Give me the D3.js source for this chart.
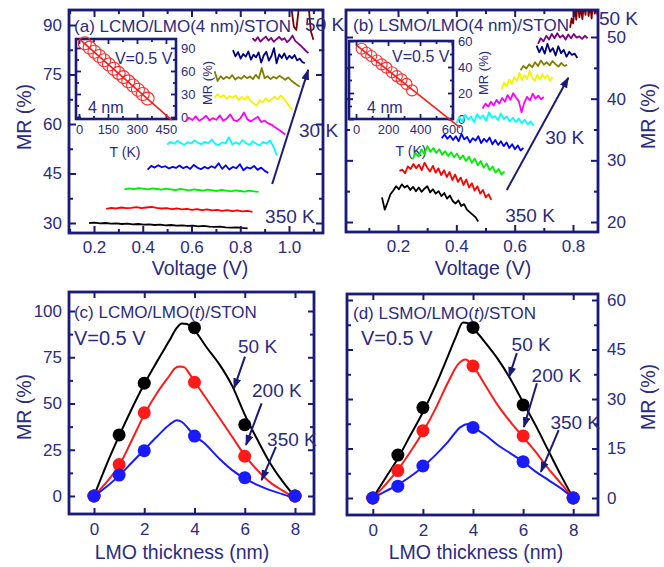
<!DOCTYPE html>
<html>
<head>
<meta charset="utf-8">
<script src="https://cdn.jsdelivr.net/npm/d3@7"></script>
<style>
  body { margin: 0; background: #fff; }
</style>
</head>
<body>
<div id="fig"></div>
<script>
// temperature series colours, 350 K (black) down to 30 K (dark red)
var seriesColors = ["#000000", "#ff0000", "#00ee00", "#0000ff", "#00ffff", "#ff00ff",
                    "#f4f400", "#808000", "#000080", "#800080", "#800000"];

// (a) LCMO/LMO(4 nm)/STON: MR vs voltage, first/last voltage of each sweep and its MR values
var vStartA = [0.18, 0.25, 0.325, 0.42, 0.50, 0.575, 0.695, 0.695, 0.77, 0.85, 0.99];
var vEndA   = [0.83, 0.85, 0.875, 0.915, 0.95, 0.985, 1.015, 1.045, 1.065, 1.08, 1.10];
var mrA = [
  [30.0,30.1,29.9,30.0,29.8,29.9,29.7,29.8,29.6,29.7,29.5,29.6,29.4,29.5,29.3,29.4,29.2,29.3,29.1,29.2,29.0,29.1,28.9,28.8,28.9,28.7,28.6,28.7,28.5,28.4],
  [34.3,34.6,34.4,34.7,34.5,34.6,34.8,34.5,34.7,34.9,34.6,34.4,34.5,34.2,34.4,34.1,34.3,34.0,34.2,33.9,34.1,33.8,34.0,33.7,33.9,33.6,33.8,33.5,33.7,33.4],
  [40.2,40.5,40.3,40.6,40.4,40.2,40.5,40.3,40.1,40.4,40.2,40.0,40.3,40.1,39.9,40.2,40.0,39.8,40.1,39.9,39.7,40.0,39.8,39.6,39.9,39.7,39.5,39.8,39.6,39.4],
  [46.2,47.3,46.8,47.5,46.9,47.2,46.5,47.0,46.7,47.4,46.6,47.1,46.4,47.6,46.8,46.3,47.0,46.5,47.2,46.7,48.1,46.4,47.5,46.2,47.0,46.6,47.8,46.0,46.9,46.5,47.3,46.1,46.8,45.8,45.2],
  [53.8,54.6,54.0,54.9,54.2,53.7,54.5,54.1,55.0,54.3,53.9,54.6,54.2,55.3,54.0,53.6,54.4,54.1,56.0,53.8,54.5,53.9,55.1,54.2,53.7,54.8,54.0,53.5,54.6,54.1,55.0,53.2,50.5],
  [60.8,61.9,61.2,62.3,61.0,61.6,62.5,61.1,61.8,61.3,62.6,61.0,61.7,62.9,61.2,60.9,61.8,63.5,61.4,60.8,61.5,62.2,60.6,61.0,60.2,59.8,59.0,58.3,57.6,56.8],
  [68.2,69.0,68.1,68.8,67.6,68.5,67.9,68.7,67.3,68.2,67.5,68.4,67.0,66.2,65.6,67.2,66.5,67.8,66.9,67.5,68.3,67.4,68.6,67.8,66.5,65.2,64.3],
  [76.0,73.0,74.5,73.6,74.3,73.8,74.8,73.5,74.2,73.7,74.6,73.9,74.4,73.6,74.9,73.8,77.0,73.9,74.5,73.6,74.3,73.8,74.6,74.0,73.4,74.1,73.2,72.5,71.8,71.3],
  [82.4,80.5,81.8,79.8,81.2,80.4,82.0,79.5,81.0,80.2,81.7,78.6,80.8,81.9,79.2,80.6,83.0,78.4,81.1,80.0,81.4,79.6,80.7,79.9,80.9,79.3,79.8,78.8,78.4],
  [86.0,85.2,86.3,85.0,85.8,86.5,85.3,86.1,84.9,85.7,86.4,85.5,86.0,84.8,85.6,86.8,85.2,84.5,83.8,83.0,82.2,81.5],
  [97.0,96.5,95.0,89.5,88.5,95.0,97.0,96.5,97.5,96.0,88.0,85.5]
];

// (b) LSMO/LMO(4 nm)/STON
var vStartB = [0.145, 0.205, 0.25, 0.35, 0.40, 0.49, 0.555, 0.62, 0.675, 0.68, 0.79];
var vEndB   = [0.475, 0.52, 0.565, 0.63, 0.665, 0.70, 0.73, 0.78, 0.815, 0.85, 0.885];
var mrB = [
  [24.0,22.0,23.2,24.5,25.1,25.8,25.3,26.1,25.6,25.9,25.2,25.7,25.0,25.6,24.9,25.4,25.8,24.8,25.3,24.6,25.0,24.2,24.7,23.8,24.3,23.4,23.0,23.5,22.6,22.9,22.0,21.6,21.2,20.8,20.1],
  [28.3,28.5,27.9,29.0,28.6,29.4,28.7,29.3,28.4,29.6,28.8,28.2,29.1,28.0,28.7,27.6,28.4,27.3,28.1,26.8,27.7,26.5,27.2,26.0,26.9,25.6,26.3,25.1,25.8,24.6,25.2,24.0,24.5,23.6],
  [30.2,31.2,30.6,31.8,31.0,32.3,31.4,32.0,31.2,31.8,30.9,31.5,30.7,31.3,30.5,31.1,30.2,30.8,29.9,30.6,29.6,30.3,29.2,29.9,28.8,29.5,28.4,29.0,28.0,28.6,27.7,28.2],
  [33.6,34.2,33.5,34.0,33.3,33.9,33.1,34.3,33.4,33.8,32.9,33.6,33.2,33.9,32.8,33.5,33.0,33.7,32.6,33.3,32.5,33.1,32.3,32.9,32.0,32.6,31.8,32.4,31.6,32.0],
  [36.0,37.0,36.3,37.4,36.6,37.1,36.2,37.5,36.8,37.3,36.4,37.8,36.9,37.2,36.5,37.6,36.7,37.1,36.3,36.9,36.2,36.8,36.0,36.6,35.8,36.3,35.6],
  [38.4,39.2,38.7,39.5,38.9,39.8,39.2,40.1,39.5,40.6,39.8,40.9,40.2,39.6,37.8,39.4,40.3,39.7,40.8,40.0,40.5,39.9,40.3],
  [41.5,42.6,42.0,43.1,42.4,43.5,42.8,44.2,43.0,43.8,43.2,44.5,43.4,42.9,43.9,43.1,44.0,43.3,43.8,42.9,43.5],
  [44.6,45.3,44.9,45.6,45.1,45.9,45.3,46.2,45.5,45.9,45.4,46.1,45.6,45.2,45.8,45.3,45.5],
  [48.6,47.5,48.4,47.3,48.9,47.6,48.2,47.0,48.5,47.4,47.9,46.8,47.6,47.1,47.3,46.6],
  [48.9,49.8,49.3,50.2,49.6,50.5,49.8,50.6,49.9,50.3,49.6,50.4,49.8,50.5,49.9,50.1,49.7,50.2,49.8],
  [51.5,53.0,52.2,55.0,52.8,56.0,53.2,54.8,52.9,55.5,53.6,56.5,53.4,55.2,53.0,56.2,53.8,54.5,53.5]
];

// insets: MR vs T at V = 0.5 V for 4 nm LMO
var insetTempA = [30, 55, 80, 105, 130, 155, 180, 205, 230, 255, 280, 305, 330, 355];
var insetMrA   = [96, 90.5, 85, 79.5, 74, 68.5, 63, 57.5, 52, 46.5, 41, 35.5, 30, 24];
var insetFitA  = [[10, 100], [480, -4]];
var insetTempB = [35, 65, 95, 130, 160, 190, 225, 255, 285, 315, 350];
var insetMrB   = [54, 51, 48.5, 45, 42, 39.5, 36, 33, 30.5, 27, 22];
var insetFitB  = [[4, 56.7], [650, -6.6]];

// (c), (d): MR vs LMO thickness at V = 0.5 V
var thickness = [0, 1, 2, 4, 6, 8];
var mrC50  = [0, 33, 61, 91, 38.5, 0];
var mrC200 = [0, 17, 45, 61.5, 21.5, 0];
var mrC350 = [0, 11.3, 24.5, 32.4, 9.9, 0];
var fitC50  = [[0,0],[0.5,17],[1,32.5],[1.5,47],[2,60.5],[2.5,72.5],[3,84],[3.3,91],[3.5,93.2],[3.7,93],[3.85,91.5],[4,89.5],[4.5,80],[5,71],[5.5,59.5],[6,44],[6.5,30.5],[7,18],[7.5,8],[8,-0.5]];
var fitC200 = [[0,0],[0.5,7.5],[1,16.5],[1.5,30],[2,44],[2.5,55.5],[3,65],[3.2,68.8],[3.4,70],[3.6,69.5],[3.8,66],[4,62],[4.5,52],[5,42],[5.5,32],[6,22],[6.5,14],[7,7.5],[7.5,3],[8,-1]];
var fitC350 = [[0,0],[0.5,5],[1,11],[1.5,18],[2,25],[2.5,32],[3,38.5],[3.3,41],[3.5,40],[3.75,36.5],[4,32.5],[4.35,29],[5,20],[5.5,14],[6,9.5],[6.5,6],[7,3.2],[7.5,1],[8,-1.3]];
var mrD50  = [0, 13, 27.4, 51.7, 28.2, 0];
var mrD200 = [0, 8.3, 20.4, 40, 18.8, 0];
var mrD350 = [0, 3.6, 9.7, 21.4, 11, 0];
var fitD50  = [[0,0],[0.5,6],[1,12],[1.5,19],[2,26],[2.5,34],[3,43],[3.3,48.5],[3.6,53.2],[3.8,53],[4,51.5],[4.5,47],[5,42],[5.5,36],[6,29],[6.5,22],[7,14.5],[7.5,7],[8,0]];
var fitD200 = [[0,0],[0.5,4],[1,8.5],[1.5,14],[2,20],[2.5,27],[3,35],[3.4,40.5],[3.7,42],[4,40],[4.5,34],[5,28],[5.5,23],[6,18.5],[6.5,14],[7,9],[7.5,4.5],[8,0]];
var fitD350 = [[0,0],[0.5,2],[1,4],[1.5,6.5],[2,9.5],[2.5,13],[3,17],[3.5,21.5],[3.8,22.4],[4,21.5],[4.5,19],[5,16],[5.5,13.5],[6,11],[6.5,8],[7,5.5],[7.5,3],[8,0]];

// ticks
var xTicksA = [0.2, 0.4, 0.6, 0.8, 1.0], xMinorA = [0.1, 0.3, 0.5, 0.7, 0.9, 1.1];
var yTicksA = [30, 45, 60, 75, 90], yMinorA = [37.5, 52.5, 67.5, 82.5];
var xTicksB = [0.2, 0.4, 0.6, 0.8], xMinorB = [0.1, 0.3, 0.5, 0.7];
var yTicksB = [20, 30, 40, 50], yMinorB = [25, 35, 45];
var xTicksCD = [0, 2, 4, 6, 8];
var yTicksC = [0, 25, 50, 75, 100], yMinorC = [12.5, 37.5, 62.5, 87.5];
var yTicksD = [0, 15, 30, 45, 60], yMinorD = [7.5, 22.5, 37.5, 52.5];
var xTicksInA = [0, 150, 300, 450], xMinorInA = [75, 225, 375];
var yTicksInA = [0, 30, 60, 90], yMinorInA = [15, 45, 75];
var xTicksInB = [0, 200, 400, 600], xMinorInB = [100, 300, 500];
var yTicksInB = [0, 20, 40, 60], yMinorInB = [10, 30, 50];

var NAVY = "#1a1a78";
var TXT = "#2b2b80";
var FONT = "'Liberation Sans', Arial, sans-serif";

function draw_figure() {
    var svg = d3.select("#fig").append("svg")
        .attr("width", 664).attr("height", 567)
        .style("font-family", FONT);

    var defs = svg.append("defs");
    defs.append("marker")
        .attr("id", "head").attr("markerUnits", "userSpaceOnUse")
        .attr("markerWidth", 11).attr("markerHeight", 8)
        .attr("refX", 10).attr("refY", 4).attr("orient", "auto")
        .append("path").attr("d", "M0,0 L11,4 L0,8 Z").attr("fill", NAVY);

    // scales; ranges are the frame edges in the picture
    var xA = d3.scaleLinear().domain([0.0974, 1.1395]).range([69, 323]);
    var yA = d3.scaleLinear().domain([26.97, 94.55]).range([233, 10]);
    var xB = d3.scaleLinear().domain([0.0217, 0.8857]).range([346, 598]);
    var yB = d3.scaleLinear().domain([18.38, 54.38]).range([232, 10]);
    var xC = d3.scaleLinear().domain([-0.995, 8.756]).range([69, 314]);
    var yC = d3.scaleLinear().domain([-9.73, 110.27]).range([514, 292]);
    var xD = d3.scaleLinear().domain([-1.03, 8.99]).range([347, 598]);
    var yD = d3.scaleLinear().domain([-5.15, 61.82]).range([515, 294]);
    var xIA = d3.scaleLinear().domain([-15.5, 502]).range([76, 176]);
    var yIA = d3.scaleLinear().domain([-2.6, 101.7]).range([119, 39]);
    var xIB = d3.scaleLinear().domain([-44, 606]).range([349, 453]);
    var yIB = d3.scaleLinear().domain([0, 60]).range([119, 41]);

    var f1 = d3.format(".1f"), fd = d3.format("d");

    // ---------- (a) ----------
    drawInset(svg, xIA, yIA, insetTempA, insetMrA, insetFitA,
              xTicksInA, xMinorInA, yTicksInA, yMinorInA, 6.5);
    label(svg, xIA(186), yIA(69.1), "V=0.5 V", 16);
    label(svg, xIA(46.6), yIA(5.2), "4 nm", 16);
    label(svg, 125, 157, "T (K)", 14, "middle");
    label(svg, 212, 83, "MR (%)", 13, "middle", true);

    drawSweeps(svg, "clipA", xA, yA, vStartA, vEndA, mrA);
    drawAxes(svg, xA, yA, {xMajor: xTicksA, xMinor: xMinorA, yMajor: yTicksA, yMinor: yMinorA,
                           xFmt: f1, yFmt: fd, ySide: "left", fs: 17, xPad: 8, yPad: 7,
                           major: 7, minor: 4, tw: 2, fw: 2.8});
    arrow(svg, xA, yA, [0.931, 41.8], [1.079, 76.4]);
    label(svg, xA(0.118), yA(87.9), "(a) LCMO/LMO(4 nm)/STON", 17);
    label(svg, xA(1.066), yA(88.2), "50 K", 19);
    label(svg, xA(1.041), yA(56.06), "30 K", 19);
    label(svg, xA(0.902), yA(29.85), "350 K", 19);
    label(svg, 200, 275, "Voltage (V)", 19.5, "middle");
    label(svg, 31, 117, "MR (%)", 19.5, "middle", true);

    // ---------- (b) ----------
    drawInset(svg, xIB, yIB, insetTempB, insetMrB, insetFitB,
              xTicksInB, xMinorInB, yTicksInB, yMinorInB, 5.5);
    label(svg, xIB(225), yIB(43.8), "V=0.5 V", 16);
    label(svg, xIB(69), yIB(4.6), "4 nm", 16);
    label(svg, 411, 156, "T (K)", 14, "middle");
    label(svg, 488, 73, "MR (%)", 13, "middle", true);

    drawSweeps(svg, "clipB", xB, yB, vStartB, vEndB, mrB);
    drawAxes(svg, xB, yB, {xMajor: xTicksB, xMinor: xMinorB, yMajor: yTicksB, yMinor: yMinorB,
                           xFmt: f1, yFmt: fd, ySide: "right", fs: 17, xPad: 8, yPad: 9,
                           major: 7, minor: 4, tw: 2, fw: 2.8});
    arrow(svg, xB, yB, [0.573, 25.2], [0.784, 43.4]);
    label(svg, xB(0.0457), yB(50.97), "(b) LSMO/LMO(4 nm)/STON", 17);
    label(svg, xB(0.889), yB(51.95), "50 K", 19);
    label(svg, xB(0.7046), yB(32.73), "30 K", 19);
    label(svg, xB(0.5675), yB(20.0), "350 K", 19);
    label(svg, 483, 275, "Voltage (V)", 19.5, "middle");
    label(svg, 655, 116, "MR (%)", 19.5, "middle", true);

    // ---------- (c) ----------
    drawThickness(svg, xC, yC, [fitC50, fitC200, fitC350], [mrC50, mrC200, mrC350]);
    drawAxes(svg, xC, yC, {xMajor: xTicksCD, xMinor: [], yMajor: yTicksC, yMinor: yMinorC,
                           xFmt: fd, yFmt: fd, ySide: "left", fs: 17, xPad: 9, yPad: 7,
                           major: 6, minor: 4, tw: 2, fw: 2.8});
    arrow(svg, xC, yC, [6.01, 75.3], [5.57, 58.2]);
    arrow(svg, xC, yC, [6.67, 50.1], [6.05, 27.6]);
    arrow(svg, xC, yC, [7.24, 26.6], [6.67, 8.6]);
    titleT(svg, xC(-0.8), yC(96.2), "(c) LCMO/LMO(");
    label(svg, xC(-0.8), yC(81.6), "V=0.5 V", 20);
    label(svg, xC(5.73), yC(77.3), "50 K", 19);
    label(svg, xC(6.29), yC(53.5), "200 K", 19);
    label(svg, xC(6.89), yC(27.0), "350 K", 19);
    label(svg, 182, 559, "LMO thickness (nm)", 19.5, "middle");
    label(svg, 31, 407, "MR (%)", 19.5, "middle", true);

    // ---------- (d) ----------
    drawThickness(svg, xD, yD, [fitD50, fitD200, fitD350], [mrD50, mrD200, mrD350]);
    drawAxes(svg, xD, yD, {xMajor: xTicksCD, xMinor: [], yMajor: yTicksD, yMinor: yMinorD,
                           xFmt: fd, yFmt: fd, ySide: "right", fs: 17, xPad: 9, yPad: 9,
                           major: 6, minor: 4, tw: 2, fw: 2.8});
    arrow(svg, xD, yD, [5.75, 43.9], [5.44, 36.7]);
    arrow(svg, xD, yD, [6.55, 34.8], [6.03, 21.5]);
    arrow(svg, xD, yD, [7.42, 20.6], [6.71, 7.9]);
    titleT(svg, xD(-0.79), yD(54.2), "(d) LSMO/LMO(");
    label(svg, xD(-0.475), yD(46.4), "V=0.5 V", 20);
    label(svg, xD(5.54), yD(44.5), "50 K", 19);
    label(svg, xD(6.34), yD(35.2), "200 K", 19);
    label(svg, xD(7.09), yD(20.9), "350 K", 19);
    label(svg, 476, 559, "LMO thickness (nm)", 19.5, "middle");
    label(svg, 655, 397, "MR (%)", 19.5, "middle", true);
}

// even voltage grid between the first and last point of one sweep
function sweepPoints(v0, v1, vals) {
    var step = (v1 - v0) / (vals.length - 1);
    return vals.map(function(m, i) { return [v0 + i * step, m]; });
}

function drawSweeps(svg, id, x, y, starts, ends, rows) {
    svg.select("defs").append("clipPath").attr("id", id)
        .append("rect")
        .attr("x", x.range()[0]).attr("y", y.range()[1])
        .attr("width", x.range()[1] - x.range()[0])
        .attr("height", y.range()[0] - y.range()[1]);
    var g = svg.append("g").attr("clip-path", "url(#" + id + ")");
    var line = d3.line().x(function(d) { return x(d[0]); }).y(function(d) { return y(d[1]); });
    rows.forEach(function(vals, i) {
        g.append("path")
            .datum(sweepPoints(starts[i], ends[i], vals))
            .attr("d", line)
            .attr("fill", "none")
            .attr("stroke", seriesColors[i])
            .attr("stroke-width", 1.8)
            .attr("stroke-linejoin", "round");
    });
}

function drawInset(svg, x, y, temps, mrs, fit, xMaj, xMin, yMaj, yMin, r) {
    drawAxes(svg, x, y, {xMajor: xMaj, xMinor: xMin, yMajor: yMaj, yMinor: yMin,
                         xFmt: d3.format("d"), yFmt: d3.format("d"), ySide: "right",
                         fs: 13, xPad: 6, yPad: 5, major: 5, minor: 3, tw: 1.8, fw: 2.6});
    var g = svg.append("g");
    g.selectAll("circle").data(temps).enter().append("circle")
        .attr("cx", function(d) { return x(d); })
        .attr("cy", function(d, i) { return y(mrs[i]); })
        .attr("r", r)
        .attr("fill", "none").attr("stroke", "#ff2a2a").attr("stroke-width", 1.1);
    g.append("path")
        .datum(fit)
        .attr("d", d3.line().x(function(d) { return x(d[0]); }).y(function(d) { return y(d[1]); }))
        .attr("stroke", "#ff1a1a").attr("stroke-width", 1.6).attr("fill", "none");
}

function drawThickness(svg, x, y, fits, pts) {
    var colors = ["#000000", "#ff1a1a", "#1a1aff"];
    var line = d3.line().curve(d3.curveMonotoneX)
        .x(function(d) { return x(d[0]); }).y(function(d) { return y(d[1]); });
    var g = svg.append("g");
    fits.forEach(function(f, i) {
        g.append("path").datum(f).attr("d", line)
            .attr("fill", "none").attr("stroke", colors[i]).attr("stroke-width", 2);
    });
    pts.forEach(function(vals, i) {
        g.selectAll("circle.s" + i).data(vals).enter().append("circle")
            .attr("class", "s" + i)
            .attr("cx", function(d, j) { return x(thickness[j]); })
            .attr("cy", function(d) { return y(d); })
            .attr("r", 6.5)
            .attr("fill", colors[i]);
    });
}

// frame with inward ticks on all four sides
function drawAxes(svg, x, y, o) {
    var x0 = x.range()[0], x1 = x.range()[1], y0 = y.range()[1], y1 = y.range()[0];
    var g = svg.append("g");
    var blank = function() { return ""; };
    function side(axis, tx, ty, vals, len, fmt, pad) {
        var s = g.append("g")
            .attr("transform", "translate(" + tx + "," + ty + ")")
            .call(axis.tickValues(vals).tickSizeInner(-len).tickSizeOuter(0)
                      .tickPadding(pad || 0).tickFormat(fmt || blank));
        s.select(".domain").remove();
    }
    side(d3.axisBottom(x), 0, y1, o.xMajor, o.major, o.xFmt, o.xPad);
    side(d3.axisBottom(x), 0, y1, o.xMinor, o.minor);
    side(d3.axisTop(x), 0, y0, o.xMajor, o.major);
    side(d3.axisTop(x), 0, y0, o.xMinor, o.minor);
    side(d3.axisLeft(y), x0, 0, o.yMajor, o.major, o.ySide == "left" ? o.yFmt : null, o.yPad);
    side(d3.axisLeft(y), x0, 0, o.yMinor, o.minor);
    side(d3.axisRight(y), x1, 0, o.yMajor, o.major, o.ySide == "right" ? o.yFmt : null, o.yPad);
    side(d3.axisRight(y), x1, 0, o.yMinor, o.minor);
    g.selectAll(".tick line").attr("stroke", NAVY).attr("stroke-width", o.tw);
    g.selectAll("text").attr("fill", TXT).attr("font-size", o.fs).attr("font-family", FONT);
    g.append("rect")
        .attr("x", x0).attr("y", y0).attr("width", x1 - x0).attr("height", y1 - y0)
        .attr("fill", "none").attr("stroke", NAVY).attr("stroke-width", o.fw);
}

function arrow(svg, x, y, from, to) {
    svg.append("line")
        .attr("x1", x(from[0])).attr("y1", y(from[1]))
        .attr("x2", x(to[0])).attr("y2", y(to[1]))
        .attr("stroke", NAVY).attr("stroke-width", 2)
        .attr("marker-end", "url(#head)");
}

function label(svg, px, py, str, size, anchor, vertical) {
    var t = svg.append("text")
        .attr("fill", TXT).attr("font-size", size)
        .attr("text-anchor", anchor || "start")
        .text(str);
    if (vertical) t.attr("transform", "translate(" + px + "," + py + ") rotate(-90)");
    else t.attr("x", px).attr("y", py);
    return t;
}

// panel title with italic t
function titleT(svg, px, py, head) {
    var t = svg.append("text").attr("x", px).attr("y", py)
        .attr("fill", TXT).attr("font-size", 17);
    t.append("tspan").text(head);
    t.append("tspan").attr("font-style", "italic").text("t");
    t.append("tspan").text(")/STON");
}

window.onload = draw_figure;
</script>
</body>
</html>
